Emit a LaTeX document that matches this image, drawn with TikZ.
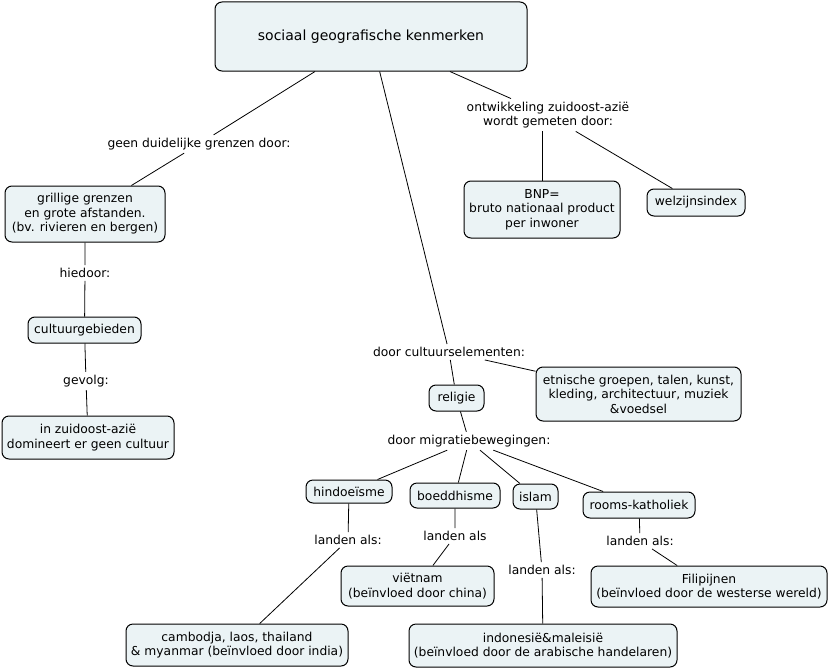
\documentclass[tikz,border=0pt]{standalone}
\usepackage{fontspec}
\setmainfont{DejaVu Sans}
\definecolor{cmapfill}{RGB}{235,243,245}
\tikzset{
	concept/.style 2 args={draw, line width=1pt, rounded corners=7pt, fill=cmapfill,
		align=center, inner sep=2pt, minimum width=#1, minimum height=#2,
		font=\fontsize{12.3}{14.5}\selectfont},
	linkword/.style={align=center, inner sep=3pt, font=\fontsize{12.3}{14.5}\selectfont},
	link/.style={line width=0.8pt}
}
\begin{document}
\begin{tikzpicture}[x=1pt, y=-1pt]
	\useasboundingbox (0,0) rectangle (829,669);
	%%% Concepten
	\node[concept={312pt}{69pt}, font=\fontsize{14}{17}\selectfont] (kenmerken) at (371,36.5) {sociaal geografische kenmerken};
	\node[concept={160pt}{56pt}] (grillig) at (85,214) {grillige grenzen\\en grote afstanden.\\(bv. rivieren en bergen)};
	\node[concept={113pt}{26pt}] (cultgeb) at (84.5,330) {cultuurgebieden};
	\node[concept={172pt}{43pt}] (geencult) at (88,437.5) {in zuidoost-azië\\domineert er geen cultuur};
	\node[concept={156pt}{57pt}] (bnp) at (542,209.5) {BNP=\\bruto nationaal product\\per inwoner};
	\node[concept={98pt}{27pt}] (welzijn) at (696,202.5) {welzijnsindex};
	\node[concept={205pt}{54pt}] (etnisch) at (638.5,394) {etnische groepen, talen, kunst,\\kleding, architectuur, muziek\\\&voedsel};
	\node[concept={55pt}{26pt}] (religie) at (456.5,398) {religie};
	\node[concept={86pt}{23pt}] (hindo) at (349,491.5) {hindoeïsme};
	\node[concept={90pt}{25pt}] (boeddh) at (455,495.5) {boeddhisme};
	\node[concept={45pt}{25pt}] (islam) at (535.5,496.5) {islam};
	\node[concept={112pt}{26pt}] (rk) at (639,505) {rooms-katholiek};
	\node[concept={153pt}{40pt}] (vietnam) at (417.5,586) {viëtnam\\(beïnvloed door china)};
	\node[concept={236pt}{41pt}] (filip) at (709,586.5) {Filipijnen\\(beïnvloed door de westerse wereld)};
	\node[concept={222pt}{42pt}] (cambodja) at (237,645) {cambodja, laos, thailand\\\& myanmar (beïnvloed door india)};
	\node[concept={268pt}{43pt}] (indo) at (543,645.5) {indonesië\&maleisië\\(beïnvloed door de arabische handelaren)};
	%%% Verbindingswoorden
	\node[linkword] (lgeen) at (199,144) {geen duidelijke grenzen door:};
	\node[linkword] (lhiedoor) at (85,273) {hiedoor:};
	\node[linkword] (lgevolg) at (86,381) {gevolg:};
	\node[linkword] (lontw) at (548,115) {ontwikkeling zuidoost-azië\\wordt gemeten door:};
	\node[linkword] (lcultel) at (449,352) {door cultuurselementen:};
	\node[linkword] (lmigr) at (469,441) {door migratiebewegingen:};
	\node[linkword] (lhindo) at (348,540) {landen als:};
	\node[linkword] (lboeddh) at (455,536) {landen als};
	\node[linkword] (lislam) at (542,570) {landen als:};
	\node[linkword] (lrk) at (640,541) {landen als:};
	%%% Lijnen
	\draw[link] (kenmerken) -- (lgeen) -- (grillig);
	\draw[link] (grillig) -- (lhiedoor) -- (cultgeb);
	\draw[link] (cultgeb) -- (lgevolg) -- (geencult);
	\draw[link] (kenmerken) -- (lontw);
	\draw[link] (lontw.south -| bnp) -- (bnp);
	\draw[link] (lontw) -- (welzijn);
	\draw[link] (kenmerken) -- (lcultel);
	\draw[link] (lcultel) -- (religie);
	\draw[link] (lcultel) -- (etnisch);
	\draw[link] (religie) -- (lmigr);
	\foreach \r in {hindo, boeddh, islam, rk}
		\draw[link] (lmigr) -- (\r);
	\draw[link] (hindo) -- (lhindo) -- (cambodja);
	\draw[link] (boeddh) -- (lboeddh) -- (vietnam);
	\draw[link] (islam) -- (lislam) -- (indo);
	\draw[link] (rk) -- (lrk) -- (filip);
\end{tikzpicture}
\end{document}
